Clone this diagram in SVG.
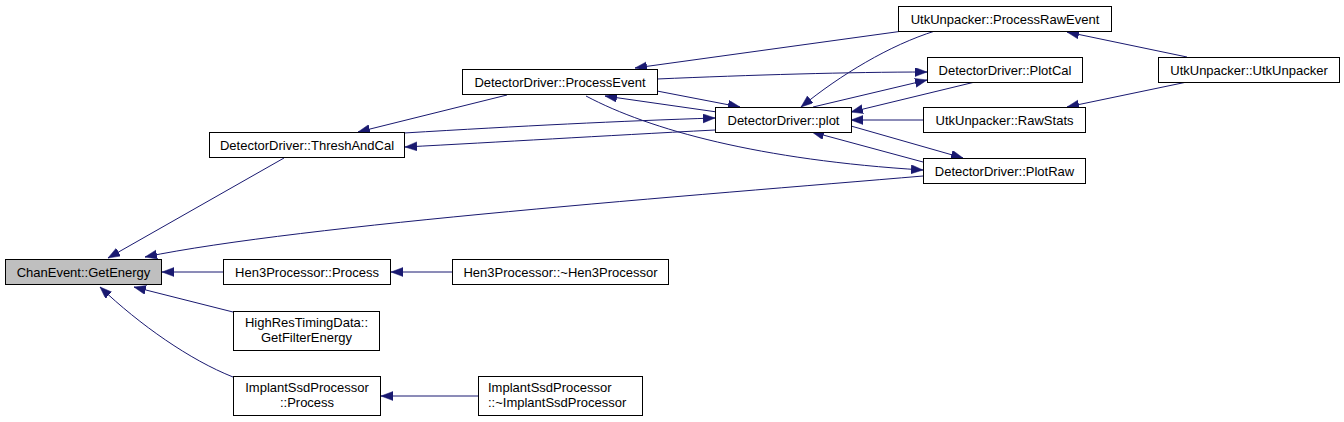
<svg xmlns="http://www.w3.org/2000/svg" width="1344" height="422" viewBox="0 0 1344 422">
<style>
.n rect{fill:#ffffff;stroke:#000000;stroke-width:1}
.n.hl rect{fill:#bfbfbf}
.n text{font-family:"Liberation Sans",Arial,sans-serif;font-size:13px;fill:#000000;text-anchor:middle}
.n text.l{text-anchor:start}
.e path{fill:none;stroke:#191970;stroke-width:1;marker-end:url(#ah)}
</style>
<defs>
<marker id="ah" markerUnits="userSpaceOnUse" markerWidth="13" markerHeight="10" refX="12" refY="4.5" orient="auto">
<path d="M0,0 L12,4.5 L0,9 z" fill="#191970" stroke="#191970" stroke-width="0.5"/>
</marker>
</defs>
<rect width="1344" height="422" fill="#ffffff"/>
<g id="connectors" class="e">
<path d="M284,158 L108,258"/>
<path d="M923,176 C700,195 300,225 145,257"/>
<path d="M223,272 L162,272"/>
<path d="M233,312 L134,287"/>
<path d="M233,377 C190,360 140,325 100,287"/>
<path d="M452,272 L391,272"/>
<path d="M478,396 L381,396"/>
<path d="M507,95 L358,132"/>
<path d="M404,133 C520,126 620,121 715,118"/>
<path d="M715,130 C600,136 500,142 405,147"/>
<path d="M903,31 L635,68"/>
<path d="M657,79 C750,75 850,72 927,72"/>
<path d="M813,107 L927,80"/>
<path d="M975,82 L851,112"/>
<path d="M935,31 C890,45 840,75 801,107"/>
<path d="M923,120 L851,120"/>
<path d="M851,126 L963,158"/>
<path d="M923,162 L812,132"/>
<path d="M586,96 C650,130 760,160 923,170"/>
<path d="M717,112 L605,96"/>
<path d="M657,91 L740,107"/>
<path d="M1187,57 L1067,32"/>
<path d="M1187,82 L1067,107"/>
</g>
<g id="n_getenergy" class="n hl"><rect x="5.5" y="259.5" width="156" height="25"/><text x="83.5" y="276.5">ChanEvent::GetEnergy</text></g>
<g id="n_threshandcal" class="n"><rect x="209.5" y="132.5" width="195" height="25"/><text x="307" y="149.5">DetectorDriver::ThreshAndCal</text></g>
<g id="n_hen3process" class="n"><rect x="223.5" y="259.5" width="167" height="25"/><text x="307" y="276.5">Hen3Processor::Process</text></g>
<g id="n_highres" class="n"><rect x="233.5" y="311.5" width="146" height="39"/><text x="306.5" y="326.5">HighResTimingData::</text><text x="306.5" y="341.5">GetFilterEnergy</text></g>
<g id="n_implantprocess" class="n"><rect x="233.5" y="376.5" width="147" height="39"/><text x="307" y="392">ImplantSsdProcessor</text><text x="307" y="407">::Process</text></g>
<g id="n_processevent" class="n"><rect x="462.5" y="69.5" width="195" height="25"/><text x="560" y="86.5">DetectorDriver::ProcessEvent</text></g>
<g id="n_plot" class="n"><rect x="715.5" y="107.5" width="136" height="25"/><text x="783.5" y="124.5">DetectorDriver::plot</text></g>
<g id="n_processrawevent" class="n"><rect x="898.5" y="6.5" width="213" height="25"/><text x="1005" y="23.5">UtkUnpacker::ProcessRawEvent</text></g>
<g id="n_plotcal" class="n"><rect x="927.5" y="57.5" width="155" height="25"/><text x="1005" y="74.5">DetectorDriver::PlotCal</text></g>
<g id="n_rawstats" class="n"><rect x="923.5" y="107.5" width="162" height="25"/><text x="1004.5" y="124.5">UtkUnpacker::RawStats</text></g>
<g id="n_plotraw" class="n"><rect x="923.5" y="158.5" width="162" height="25"/><text x="1004.5" y="175.5">DetectorDriver::PlotRaw</text></g>
<g id="n_utkunpacker" class="n"><rect x="1158.5" y="57.5" width="181" height="25"/><text x="1249" y="74.5">UtkUnpacker::UtkUnpacker</text></g>
<g id="n_hen3dtor" class="n"><rect x="452.5" y="259.5" width="216" height="25"/><text x="560.5" y="276.5">Hen3Processor::~Hen3Processor</text></g>
<g id="n_implantdtor" class="n"><rect x="478.5" y="376.5" width="164" height="39"/><text class="l" x="488" y="392">ImplantSsdProcessor</text><text class="l" x="488" y="407">::~ImplantSsdProcessor</text></g>
</svg>
